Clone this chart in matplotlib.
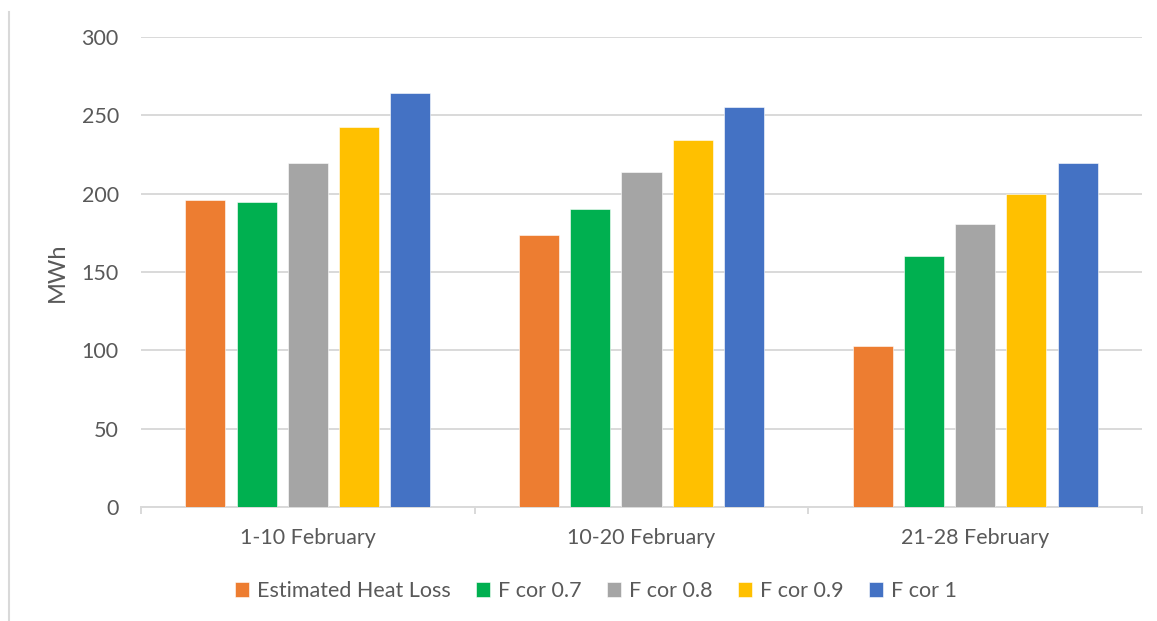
import numpy as np
import matplotlib.pyplot as plt
from matplotlib.lines import Line2D

plt.rcParams['font.family'] = ['Lato', 'DejaVu Sans']

periods = ['1-10 February', '10-20 February', '21-28 February']
series = ['Estimated Heat Loss', 'F cor 0.7', 'F cor 0.8', 'F cor 0.9', 'F cor 1']
heat_loss = [196, 173.5, 103]
fcor_07 = [194.5, 190.5, 160]
fcor_08 = [219.5, 214, 180.5]
fcor_09 = [242.5, 234.5, 199.5]
fcor_1 = [264, 255, 219.5]
colors = ['#ED7D31', '#00B050', '#A5A5A5', '#FFC000', '#4472C4']

values = [heat_loss, fcor_07, fcor_08, fcor_09, fcor_1]
txt = '#595959'
grid = '#D9D9D9'

fig = plt.figure(figsize=(11.57, 6.21), dpi=100)
ax = fig.add_axes([141/1157, 1-507/621, (1142-141)/1157, (507-37)/621])

x = np.arange(len(periods))
step = 0.1535
width = 0.12
for i, (name, vals, c) in enumerate(zip(series, values, colors)):
    ax.bar(x + (i-2)*step, vals, width, color=c, label=name, zorder=3,
           edgecolor='white', linewidth=0.4)

ax.set_xlim(-0.5, 2.5)
ax.set_ylim(0, 300)
ax.set_yticks(range(0, 301, 50))
ax.yaxis.grid(True, color=grid, linewidth=1.4, zorder=0)
ax.set_axisbelow(True)
for s in ['top', 'right', 'left']:
    ax.spines[s].set_visible(False)
ax.spines['bottom'].set_color(grid)
ax.spines['bottom'].set_linewidth(1.4)

ax.set_xticks(x)
ax.set_xticklabels(periods)
ax.set_xticks([-0.5, 0.5, 1.5, 2.5], minor=True)
ax.tick_params(axis='x', which='major', length=0, pad=15, labelsize=15.5, labelcolor=txt)
ax.tick_params(axis='x', which='minor', length=5, width=1.4, color=grid)
ax.tick_params(axis='y', length=0, pad=16, labelsize=15.5, labelcolor=txt)
ax.set_ylabel('MWh', fontsize=17, color=txt, labelpad=10)

fig.legend(loc='center', bbox_to_anchor=(596/1157, 1-591/621), ncol=5, frameon=False,
           fontsize=15.5, labelcolor=txt, handlelength=0.65, handleheight=0.65,
           handletextpad=0.35, columnspacing=1.2)

fig.add_artist(Line2D([9/1157, 9/1157], [0, 1-12/621], color=grid, linewidth=1.5))

plt.savefig('out.png', dpi=100)
plt.close(fig)
